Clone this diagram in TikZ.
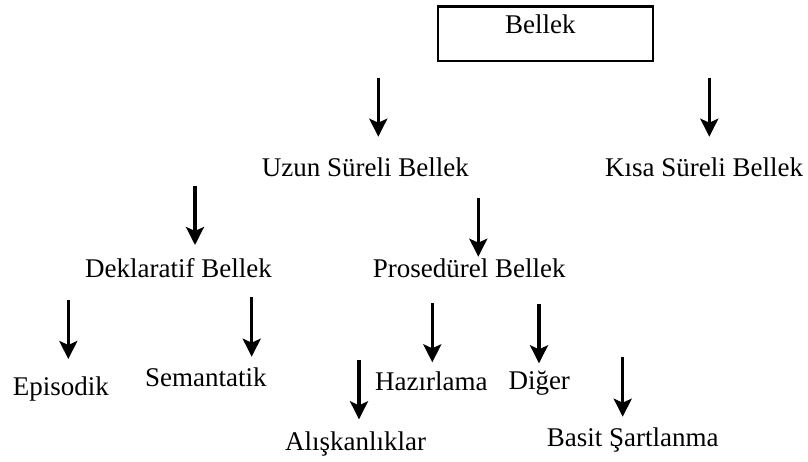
\documentclass[tikz,border=0pt]{standalone}
\usepackage{fontspec}
\setmainfont{Liberation Serif}
\usetikzlibrary{arrows.meta}
\begin{document}
\begin{tikzpicture}[x=1pt,y=-1pt,
  lbl/.style={inner sep=0pt, anchor=base west, font=\fontsize{27}{30}\selectfont},
  box/.style={draw, line width=2.8pt, inner sep=0pt, minimum width=215pt, minimum height=54.6pt},
  arr/.style={line width=3.2pt, -{Stealth[width=18pt,length=18pt,inset=4pt]}}]
\useasboundingbox (0,0) rectangle (808,461);
% top box
\node[box] (box) at (545.5,33.65) {};
\node[lbl] (bellek) at (505,33.3) {Bellek};
% labels
\node[lbl] (uzun) at (261.7,176.5) {Uzun Süreli Bellek};
\node[lbl] (kisa) at (605,176.5) {Kısa Süreli Bellek};
\node[lbl] (dekl) at (85,277) {Deklaratif Bellek};
\node[lbl] (pros) at (372.7,277.3) {Prosedürel Bellek};
\node[lbl] (epis) at (12.7,395) {Episodik};
\node[lbl] (sem) at (145,386.7) {Semantatik};
\node[lbl] (haz) at (375,390) {Hazırlama};
\node[lbl] (dig) at (508.3,389.3) {Diğer};
\node[lbl] (alis) at (285,450) {Alışkanlıklar};
\node[lbl] (basit) at (546.7,446.7) {Basit Şartlanma};
% arrow end points
\coordinate (s1) at (378.3,77.7);  \coordinate (e1) at (378.3,136.7);
\coordinate (s2) at (709.3,77.7);  \coordinate (e2) at (709.3,136.7);
\coordinate (s3) at (195,186);     \coordinate (e3) at (195,245);
\coordinate (s4) at (478.3,198.3); \coordinate (e4) at (478.3,256.7);
\coordinate (s5) at (68.3,300);    \coordinate (e5) at (68.3,359);
\coordinate (s6) at (251.7,296.7); \coordinate (e6) at (251.7,356.7);
\coordinate (s7) at (432.3,303.3); \coordinate (e7) at (432.3,362.3);
\coordinate (s8) at (539,304);     \coordinate (e8) at (539,363.3);
\coordinate (s9) at (359,360);     \coordinate (e9) at (359,419.3);
\coordinate (s10) at (622.7,357.3); \coordinate (e10) at (622.7,416.7);
\foreach \i in {1,...,10} {\draw[arr] (s\i) -- (e\i);}
\end{tikzpicture}
\end{document}
